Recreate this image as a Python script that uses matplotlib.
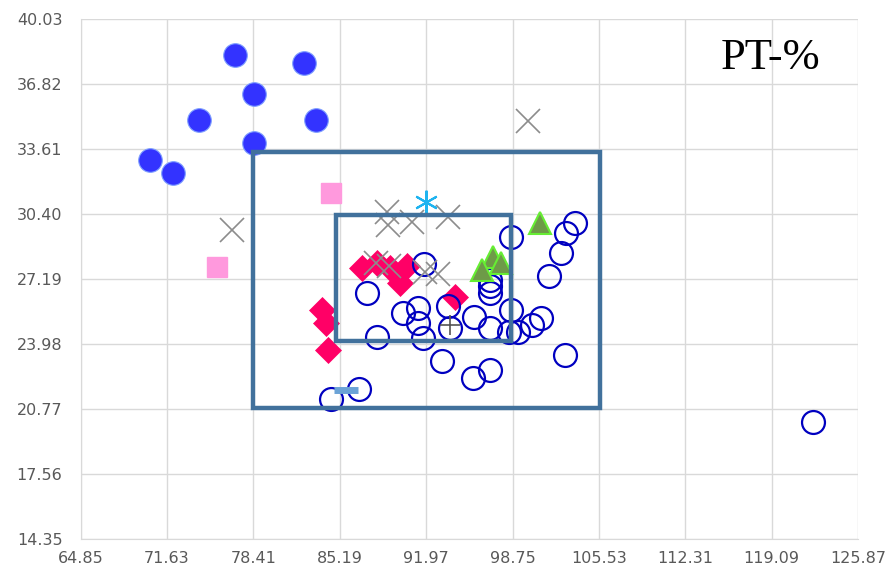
"""
PT-% scatter with two reference boxes
"""

import matplotlib
matplotlib.use('Agg')
import matplotlib.pyplot as plt
from matplotlib.patches import Rectangle

# axis ticks
x_ticks = [64.85, 71.63, 78.41, 85.19, 91.97, 98.75, 105.53, 112.31, 119.09, 125.87]
y_ticks = [14.35, 17.56, 20.77, 23.98, 27.19, 30.40, 33.61, 36.82, 40.03]

# filled blue circles
filled_x = [76.99, 74.16, 78.48, 78.48, 70.31, 72.12, 82.41, 83.35]
filled_y = [38.27, 35.06, 36.34, 33.92, 33.08, 32.44, 37.87, 35.06]

# open blue circles
open_x = [91.84, 87.36, 90.19, 91.37, 91.37, 91.76, 88.15, 93.65, 93.88, 95.69,
          96.95, 97.02, 97.02, 97.02, 98.60, 98.60, 98.44, 99.15, 100.25, 100.95,
          101.58, 102.52, 102.92, 103.62, 102.84, 93.25, 95.61, 97.02, 86.73, 84.53,
          122.32]
open_y = [27.95, 26.51, 25.53, 25.77, 25.03, 24.29, 24.34, 25.87, 24.79, 25.33,
          24.79, 27.16, 26.86, 26.51, 29.28, 25.68, 24.59, 24.59, 24.93, 25.28,
          27.35, 28.49, 29.48, 29.97, 23.45, 23.16, 22.32, 22.71, 21.77, 21.28,
          20.14]

# red diamonds
dia_x = [86.95, 88.15, 89.17, 89.95, 90.50, 94.27, 83.82, 84.14, 84.30]
dia_y = [27.75, 28.00, 27.75, 27.01, 27.85, 26.32, 25.68, 25.03, 23.70]

# pink squares
sq_x = [75.57, 84.53]
sq_y = [27.80, 31.45]

# gray crosses
cross_x = [76.75, 99.93, 88.93, 89.01, 90.90, 93.65, 88.07, 89.09, 91.92, 92.94]
cross_y = [29.63, 35.01, 30.51, 29.87, 30.02, 30.27, 28.00, 27.85, 27.55, 27.45]

# green triangles
tri_x = [100.87, 97.18, 97.81, 96.39]
tri_y = [29.97, 28.29, 28.00, 27.65]

# single points
star_x, star_y = [91.99], [31.01]
plus_x, plus_y = [93.88], [24.93]
dash_x, dash_y = [85.71], [21.72]

# boxes: (x0, y0, x1, y1)
outer_box = (78.40, 20.84, 105.60, 33.48)
inner_box = (84.92, 24.14, 98.67, 30.37)

fig = plt.figure(figsize=(8.85, 5.72), dpi=100)
ax = fig.add_axes([0.091, 0.0577, 0.8786, 0.9086])

ax.plot(filled_x, filled_y, 'o', ms=17, mfc='#3333FF', mec='#7F9FFF', mew=0.8, ls='none', zorder=3)
ax.plot(dia_x, dia_y, 'D', ms=13, mfc='#FF0066', mec='#FF0066', mew=0.5, ls='none', zorder=3)
ax.plot(open_x, open_y, 'o', ms=16.5, mfc='none', mec='#0000C0', mew=1.6, ls='none', zorder=4)
ax.plot(sq_x, sq_y, 's', ms=14, mfc='#FF99DD', mec='#FF99DD', ls='none', zorder=4)
ax.plot(cross_x, cross_y, 'x', ms=17, mec='#8C8C8C', mew=1.2, ls='none', zorder=5)
ax.plot(tri_x, tri_y, '^', ms=16, mfc='#6E9A48', mec='#66EE33', mew=1.5, ls='none', zorder=5)
ax.plot(star_x, star_y, marker=(6, 2, 0), ms=17, mec='#1FB4F0', mew=1.5, ls='none', zorder=5)
ax.plot(plus_x, plus_y, '+', ms=15, mec='#555555', mew=1.2, ls='none', zorder=5)
ax.plot(dash_x, dash_y, '_', ms=17, mec='#6BA3D6', mew=5, ls='none', zorder=5)

for x0, y0, x1, y1 in [outer_box, inner_box]:
    ax.add_patch(Rectangle((x0, y0), x1 - x0, y1 - y0, fill=False,
                           ec='#41719C', lw=3.2, zorder=6))

ax.set_xlim(x_ticks[0], x_ticks[-1])
ax.set_ylim(y_ticks[0], y_ticks[-1])
ax.set_xticks(x_ticks)
ax.set_yticks(y_ticks)
ax.set_xticklabels(['%.2f' % v for v in x_ticks])
ax.set_yticklabels(['%.2f' % v for v in y_ticks])
ax.tick_params(length=0, labelsize=11.5, labelcolor='#595959')
ax.tick_params(axis='y', pad=13)
ax.tick_params(axis='x', pad=9)
ax.grid(True, color='#D9D9D9', lw=1)
ax.set_axisbelow(True)
for s in ['top', 'right']:
    ax.spines[s].set_visible(False)
for s in ['left', 'bottom']:
    ax.spines[s].set_color('#D9D9D9')

ax.text(0.887, 0.925, 'PT-%', transform=ax.transAxes, ha='center', va='center',
        fontsize=32, family='Liberation Serif', color='black')

plt.savefig('out.png', dpi=100)
